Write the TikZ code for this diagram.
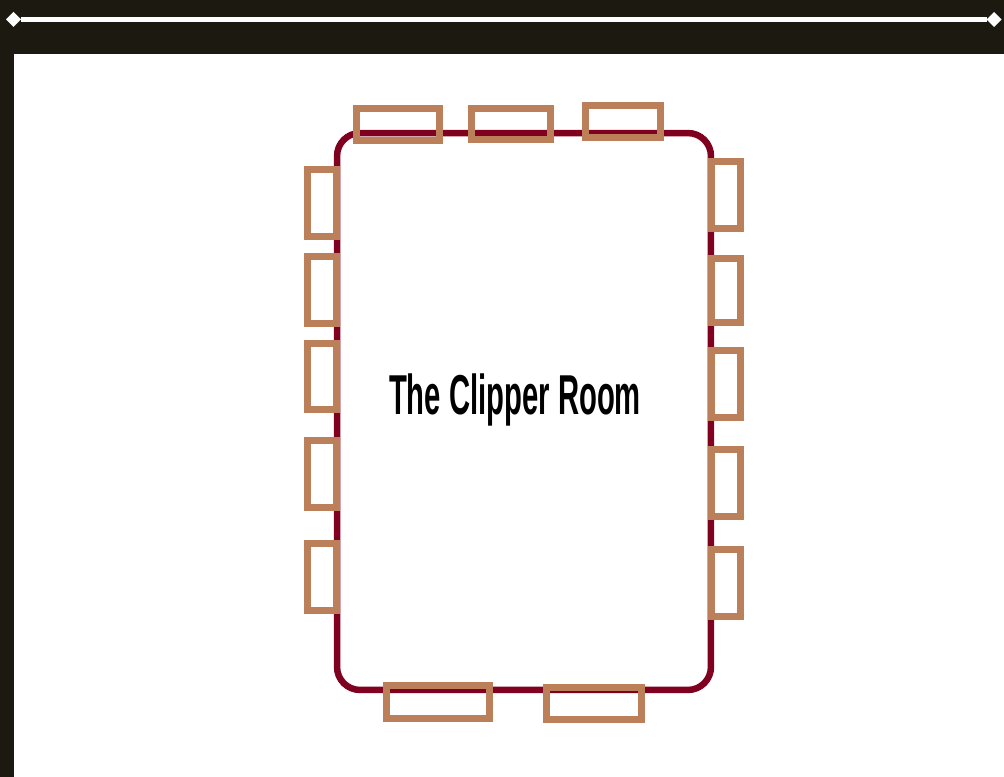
\documentclass[tikz,border=0pt]{standalone}
\usepackage{fontspec}
\newfontfamily\clipperfont[FakeStretch=0.52]{Liberation Sans}
\definecolor{cliframe}{RGB}{28,25,16}
\definecolor{clired}{RGB}{128,0,32}
\definecolor{cliwood}{RGB}{187,128,89}
\usetikzlibrary{shapes.geometric}

\begin{document}
\begin{tikzpicture}[
  x=0.02cm,y=-0.02cm,
  roombox/.style={draw=clired,line width=0.13cm,rounded corners=0.46cm,inner sep=0pt,
                  minimum width=7.48cm,minimum height=11.14cm},
  hbox/.style={draw=cliwood,line width=0.14cm,inner sep=0pt},
  vbox/.style={draw=cliwood,line width=0.14cm,inner sep=0pt,minimum width=0.58cm,minimum height=1.34cm},
  endpt/.style={diamond,fill=white,inner sep=0pt,outer sep=0pt,minimum width=0.3cm,minimum height=0.3cm},
]
  \useasboundingbox (0,0) rectangle (1004,777);

  % Frame
  \fill[cliframe] (0,0) rectangle (1004,54);
  \fill[cliframe] (0,0) rectangle (14,777);

  % Rail along the top
  \node[endpt] (railL) at (13.5,19.5) {};
  \node[endpt] (railR) at (994,19.5) {};
  \draw[white,line width=0.11cm] (railL) -- (railR);

  % Room outline
  \node[roombox] (room) at (524,411.5) {};

  % Title
  \node[font=\clipperfont\fontsize{32}{32}\selectfont\bfseries,text=black,inner sep=0pt]
    (title) at (515,400) {The Clipper Room};

  % Top row
  \node[hbox,minimum width=1.66cm,minimum height=0.64cm] (top1) at (398,124.5) {};
  \node[hbox,minimum width=1.60cm,minimum height=0.64cm] (top2) at (511,124) {};
  \node[hbox,minimum width=1.50cm,minimum height=0.64cm] (top3) at (622.5,121.5) {};

  % Left column
  \node[vbox] (left1) at (322,203) {};
  \node[vbox] (left2) at (322,290) {};
  \node[vbox] (left3) at (322,376.5) {};
  \node[vbox] (left4) at (322,474) {};
  \node[vbox] (left5) at (322,577) {};

  % Right column
  \node[vbox] (right1) at (725.5,195) {};
  \node[vbox,minimum height=1.28cm] (right2) at (725.5,290.5) {};
  \node[vbox] (right3) at (725.5,384) {};
  \node[vbox] (right4) at (725.5,483) {};
  \node[vbox] (right5) at (725.5,583) {};

  % Bottom row
  \node[hbox,minimum width=2.06cm,minimum height=0.66cm] (bot1) at (438,702) {};
  \node[hbox,minimum width=1.90cm,minimum height=0.64cm] (bot2) at (594,703.5) {};
\end{tikzpicture}
\end{document}
